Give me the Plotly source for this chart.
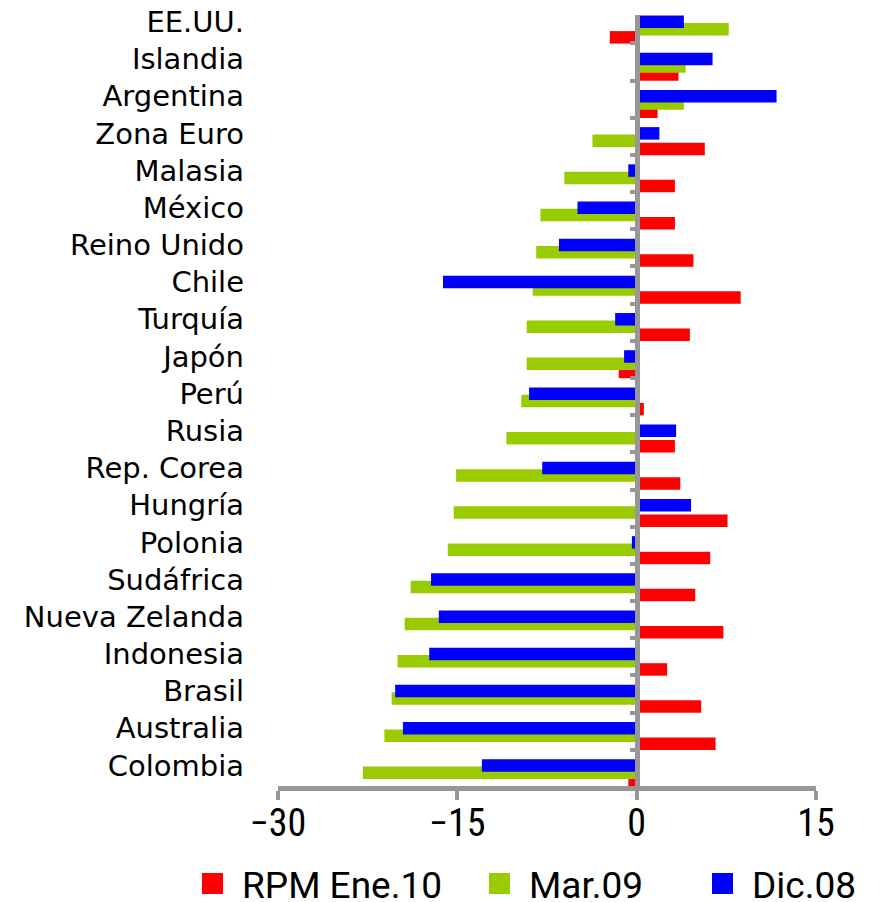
import plotly.graph_objects as go

# Categories listed top-to-bottom as in the reference
countries = ["EE.UU.", "Islandia", "Argentina", "Zona Euro", "Malasia", "México",
             "Reino Unido", "Chile", "Turquía", "Japón", "Perú", "Rusia",
             "Rep. Corea", "Hungría", "Polonia", "Sudáfrica", "Nueva Zelanda",
             "Indonesia", "Brasil", "Australia", "Colombia"]

rpm_ene10 = [-2.25, 3.5, 1.75, 5.7, 3.2, 3.2, 4.75, 8.7, 4.45, -1.5, 0.6, 3.2,
             3.65, 7.6, 6.15, 4.9, 7.25, 2.55, 5.4, 6.6, -0.7]
mar09 = [7.7, 4.1, 3.95, -3.7, -6.05, -8.05, -8.4, -8.7, -9.2, -9.2, -9.65, -10.9,
         -15.1, -15.3, -15.8, -18.9, -19.4, -20.0, -20.5, -21.1, -22.9]
dic08 = [3.95, 6.35, 11.7, 1.9, -0.7, -4.95, -6.5, -16.2, -1.8, -1.05, -9.0, 3.3,
         -7.9, 4.55, -0.4, -17.2, -16.55, -17.35, -20.2, -19.55, -12.95]

series_names = ["RPM Ene.10", "Mar.09", "Dic.08"]
series_colors = ["#FF0000", "#99CC00", "#0000FF"]
x_ticks = [-30, -15, 0, 15]

GRAY = "#979797"
BAR_W = 0.336
offsets = [-0.585, -0.366, -0.168]
COND = "Liberation Sans Narrow, Roboto Condensed, Roboto, sans-serif"
W, H = 885, 902

fig = go.Figure()
for name, vals, col, off in zip(series_names, [rpm_ene10, mar09, dic08], series_colors, offsets):
    fig.add_trace(go.Bar(
        y=countries, x=vals, orientation="h", name=name,
        marker=dict(color=col, line=dict(width=0)),
        width=BAR_W, offset=off, showlegend=False, hoverinfo="x+y+name",
    ))

# legend entries (square markers), one legend box per series
legend_ids = ["legend", "legend2", "legend3"]
legend_left_px = [175, 462, 685]
for name, col, lid in zip(series_names, series_colors, legend_ids):
    fig.add_trace(go.Scatter(
        x=[None], y=[None], mode="markers", name=name, yaxis="y2",
        marker=dict(symbol="square", size=16, color=col, line=dict(color=col, width=5)),
        showlegend=True, legend=lid,
    ))

yrange = [-0.552, 20.184]

legend_common = dict(
    orientation="h", xref="container", yref="container",
    xanchor="left", y=1 - 876 / H, yanchor="middle",
    font=dict(size=37, family="Roboto, sans-serif"),
    itemwidth=49, bgcolor="rgba(0,0,0,0)",
)

fig.update_layout(
    width=W, height=H,
    margin=dict(l=270, r=77, t=7, b=124, autoexpand=False),
    paper_bgcolor="white", plot_bgcolor="white",
    barmode="overlay",
    font=dict(family="DejaVu Sans", color="black"),
    showlegend=True,
    legend=dict(x=legend_left_px[0] / W, **legend_common),
    legend2=dict(x=legend_left_px[1] / W, **legend_common),
    legend3=dict(x=legend_left_px[2] / W, **legend_common),
    xaxis=dict(
        range=[-30, 15], tickvals=x_ticks, showgrid=False, zeroline=False,
        showline=True, linecolor=GRAY, linewidth=4.5,
        ticks="outside", ticklen=9, tickwidth=4, tickcolor=GRAY,
        tickfont=dict(size=38, family=COND), automargin=False,
        ticklabelstandoff=-9,
    ),
    yaxis=dict(
        type="category", categoryorder="array", categoryarray=countries[::-1],
        range=yrange, showgrid=False, zeroline=False, showline=False,
        ticks="", tickfont=dict(size=29, family="DejaVu Sans"),
        ticklabelstandoff=33, automargin=False,
    ),
    yaxis2=dict(
        overlaying="y", anchor="free", position=30 / 45, side="left",
        range=yrange, showgrid=False, zeroline=False,
        showline=True, linecolor=GRAY, linewidth=5,
        tickmode="linear", tick0=-0.578, dtick=1,
        ticks="outside", ticklen=5, tickwidth=4, tickcolor=GRAY,
        showticklabels=False, automargin=False,
    ),
)

fig.write_html("out.html")
